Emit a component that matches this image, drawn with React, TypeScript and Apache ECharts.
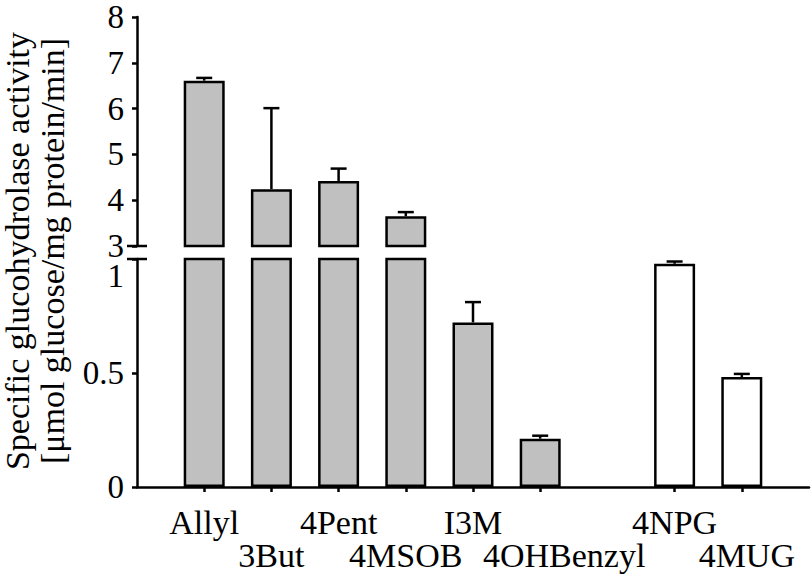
import React, { useEffect, useRef } from "react";
import * as echarts from "echarts";

// ---- data ----
const categories = ["", "Allyl", "3But", "4Pent", "4MSOB", "I3M", "4OHBenzyl", "", "4NPG", "4MUG", ""];
const activity = [null, 6.61, 4.24, 4.42, 3.65, 0.722, 0.212, null, 0.979, 0.482, null];
const sem = [null, 0.06, 1.77, 0.27, 0.09, 0.089, 0.013, null, 0.01, 0.014, null];
const synthetic = [false, false, false, false, false, false, false, false, true, true, false];

const upperRange = [3, 8];
const upperInterval = 1;
const lowerRange = [0, 1];
const lowerInterval = 0.5;

const yTitle = ["Specific glucohydrolase activity", "[μmol glucose/mg protein/min]"];

const FONT = "Liberation Serif";

export default function App() {
  const ref = useRef<HTMLDivElement>(null);

  useEffect(() => {
    if (!ref.current) return;
    const chart = echarts.init(ref.current, null, { renderer: "svg" });

    const gridLeft = 137;
    const gridRight = 3;
    const upperTop = 17;
    const upperHeight = 229;
    const lowerTop = 259;
    const lowerHeight = 228;
    const lw = 2.5;
    const labelMargin = 13;

    // horizontal nudges of a few crowded category labels (px to the right)
    const labelNudge: Record<string, number> = { "4OHBenzyl": 24, "4MUG": 5 };

    const barFill = (i: number) => (synthetic[i] ? "#ffffff" : "#c0c0c0");

    const upperBars = activity.map((v, i) =>
      v != null && v >= upperRange[0]
        ? { value: v, itemStyle: { color: barFill(i) } }
        : "-"
    );
    const lowerBars = activity.map((v, i) =>
      v != null ? { value: v, itemStyle: { color: barFill(i) } } : "-"
    );

    const errUpper: number[][] = [];
    const errLower: number[][] = [];
    activity.forEach((v, i) => {
      const e = sem[i];
      if (v == null || e == null) return;
      if (v >= upperRange[0]) errUpper.push([i, v, e]);
      else errLower.push([i, v, e]);
    });

    const renderErr = (params: any, api: any) => {
      const x = api.value(0);
      const v = api.value(1);
      const e = api.value(2);
      const p0 = api.coord([x, v]);
      const p1 = api.coord([x, v + e]);
      const half = 8;
      const style = { stroke: "#000", lineWidth: lw };
      return {
        type: "group",
        children: [
          { type: "line", shape: { x1: p0[0], y1: p0[1], x2: p1[0], y2: p1[1] }, style },
          { type: "line", shape: { x1: p1[0] - half, y1: p1[1], x2: p1[0] + half, y2: p1[1] }, style },
        ],
      };
    };

    const axisTextStyle = { color: "#000", fontFamily: FONT, fontSize: 33 };
    const xText = { color: "#000", fontFamily: FONT, fontSize: 34, lineHeight: 33 };

    const rankCounter = (index: number) => categories.slice(0, index).filter((c) => c).length;

    const xRich: Record<string, any> = { base: { ...xText } };
    Object.keys(labelNudge).forEach((k, i) => {
      xRich["n" + i] = { ...xText, padding: [0, 0, 0, labelNudge[k] * 2] };
    });

    const option: any = {
      animation: false,
      backgroundColor: "#fff",
      textStyle: { fontFamily: FONT },
      grid: [
        { left: gridLeft, right: gridRight, top: upperTop, height: upperHeight },
        { left: gridLeft, right: gridRight, top: lowerTop, height: lowerHeight },
      ],
      xAxis: [
        {
          type: "category",
          gridIndex: 0,
          data: categories,
          boundaryGap: false,
          show: false,
        },
        {
          type: "category",
          gridIndex: 1,
          data: categories,
          boundaryGap: false,
          axisLine: { lineStyle: { color: "#000", width: lw } },
          axisTick: {
            show: true,
            length: 5,
            interval: (index: number, value: string) => value !== "",
            lineStyle: { color: "#000", width: lw },
          },
          axisLabel: {
            interval: 0,
            margin: 19,
            ...xText,
            rich: xRich,
            formatter: (value: string, index: number) => {
              if (!value) return "";
              const ni = Object.keys(labelNudge).indexOf(value);
              const tag = ni >= 0 ? "n" + ni : "base";
              const txt = "{" + tag + "|" + value + "}";
              return rankCounter(index) % 2 === 1 ? "\n" + txt : txt;
            },
          },
          splitLine: { show: false },
        },
      ],
      yAxis: [
        {
          type: "value",
          gridIndex: 0,
          min: upperRange[0],
          max: upperRange[1],
          interval: upperInterval,
          axisLine: { show: true, lineStyle: { color: "#000", width: lw } },
          axisTick: { show: true, length: 5, lineStyle: { color: "#000", width: lw } },
          axisLabel: { ...axisTextStyle, margin: labelMargin },
          splitLine: { show: false },
        },
        {
          type: "value",
          gridIndex: 1,
          min: lowerRange[0],
          max: lowerRange[1],
          interval: lowerInterval,
          axisLine: { show: true, onZero: false, lineStyle: { color: "#000", width: lw } },
          axisTick: { show: true, length: 5, lineStyle: { color: "#000", width: lw } },
          axisLabel: {
            ...axisTextStyle,
            margin: labelMargin,
            // the top label of the lower segment is drawn lowered, below the break (see graphic)
            formatter: (v: number) => (v === lowerRange[1] ? "" : String(v)),
          },
          splitLine: { show: false },
        },
      ],
      series: [
        {
          type: "bar",
          xAxisIndex: 0,
          yAxisIndex: 0,
          data: upperBars,
          barWidth: 41,
          itemStyle: { borderColor: "#000", borderWidth: lw },
          clip: true,
          z: 2,
        },
        {
          type: "bar",
          xAxisIndex: 1,
          yAxisIndex: 1,
          data: lowerBars,
          barWidth: 41,
          itemStyle: { borderColor: "#000", borderWidth: lw },
          clip: true,
          z: 2,
        },
        {
          type: "custom",
          xAxisIndex: 0,
          yAxisIndex: 0,
          data: errUpper,
          renderItem: renderErr,
          clip: false,
          z: 3,
        },
        {
          type: "custom",
          xAxisIndex: 1,
          yAxisIndex: 1,
          data: errLower,
          renderItem: renderErr,
          clip: false,
          z: 3,
        },
      ],
      graphic: [
        {
          type: "line",
          shape: { x1: gridLeft - 10, y1: upperTop + upperHeight, x2: gridLeft + 10, y2: upperTop + upperHeight },
          style: { stroke: "#000", lineWidth: lw },
          z: 10,
        },
        {
          type: "line",
          shape: { x1: gridLeft - 10, y1: lowerTop, x2: gridLeft + 10, y2: lowerTop },
          style: { stroke: "#000", lineWidth: lw },
          z: 10,
        },
        {
          type: "text",
          x: gridLeft - labelMargin,
          y: lowerTop + 17,
          style: {
            text: String(lowerRange[1]),
            fill: "#000",
            fontFamily: FONT,
            fontSize: 33,
            lineHeight: 24,
            align: "right",
            verticalAlign: "middle",
          },
        },
        {
          type: "text",
          x: 35,
          y: 251,
          rotation: Math.PI / 2,
          style: {
            text: yTitle.join("\n"),
            fill: "#000",
            fontFamily: FONT,
            fontSize: 34,
            lineHeight: 35,
            align: "center",
            verticalAlign: "middle",
          },
        },
      ],
    };

    chart.setOption(option);
    return () => chart.dispose();
  }, []);

  return (
    <div
      ref={ref}
      style={{ position: "absolute", left: 0, top: 0, width: 812, height: 578 }}
    />
  );
}
